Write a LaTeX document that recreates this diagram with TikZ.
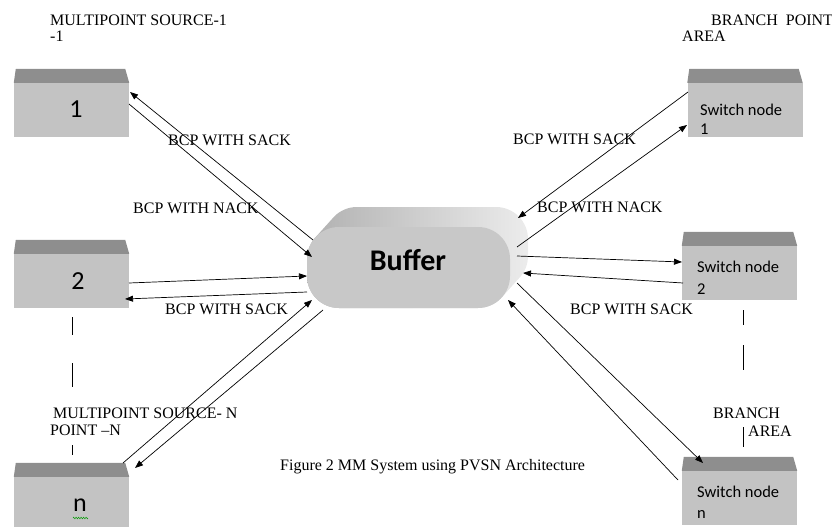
\documentclass[tikz,border=0pt]{standalone}
\usepackage{fontspec}
\setmainfont{Liberation Serif}
\newfontfamily\calfont{Carlito}
\usetikzlibrary{arrows.meta,decorations.pathmorphing}
\definecolor{boxfront}{HTML}{C3C3C3}
\definecolor{boxtop}{HTML}{8E8E8E}
\definecolor{buffront}{HTML}{C8C8C8}
\begin{document}
\begin{tikzpicture}[x=1pt,y=-1pt,
  lbl/.style={font=\fontsize{16}{17}\selectfont, inner sep=0pt, anchor=base west},
  box/.style={fill=boxfront, minimum width=115pt, minimum height=54pt, inner sep=0pt},
  digit/.style={font=\calfont\fontsize{26}{28}\selectfont, inner sep=0pt, anchor=base},
  swtext/.style={font=\calfont\fontsize{16.5}{18}\selectfont, inner sep=0pt, anchor=base west},
  arr/.style={-{Triangle[length=8pt,width=6pt]}, line width=0.7pt},
  vbar/.style={line width=0.8pt}]
\useasboundingbox (0,0) rectangle (832,527);
\clip (0,0) rectangle (832,527);

% buffer (3D rounded block)
\shade[left color=gray!62, middle color=gray!55, right color=gray!15]
  \foreach \k in {0,...,20} { [rounded corners=32pt] (307+0.9*\k, 227-\k) rectangle ++(203,81) };
\node[fill=buffront, rounded corners=32pt, minimum width=203pt, minimum height=81pt, inner sep=0pt] (buf) at (408.5,267.5) {};
\node[font=\calfont\bfseries\fontsize{30}{32}\selectfont, inner sep=0pt, anchor=base] (buft) at (408,270) {Buffer};

% boxes
\node[box] (b1) at (71.5,110) {};
\node[box] (b2) at (71.5,281) {};
\node[box] (bn) at (71.5,504) {};
\node[box] (s1) at (745,110) {};
\node[box] (s2) at (739.5,273) {};
\node[box] (sn) at (739.5,498) {};
\foreach \n in {b1,b2,bn,s1,s2,sn}
  \fill[boxtop] (\n.north west) -- ([shift={(2,-14)}]\n.north west) -- ([shift={(-4,-14)}]\n.north east) -- (\n.north east) -- cycle;

% box texts
\node[digit] (t1) at (76,117) {1};
\node[digit] (t2) at (78,289) {2};
\node[digit] (tn) at (80,511) {n};
\draw[green!60!black, line width=0.5pt, decorate, decoration={zigzag, amplitude=0.8pt, segment length=2.5pt}] (73,518) -- (88,518);
\node[swtext] (s1a) at (700,115) {Switch node};
\node[swtext] (s1b) at (700,134) {1};
\node[swtext] (s2a) at (697,272) {Switch node};
\node[swtext] (s2b) at (697,294) {2};
\node[swtext] (sna) at (697,497) {Switch node};
\node[swtext] (snb) at (697,518) {n};

% labels
\node[lbl] (l1) at (50,25.5) {MULTIPOINT SOURCE-1};
\node[lbl] (l2) at (50,42) {-1};
\node[lbl] (l3) at (711,26) {BRANCH\ \ POINT};
\node[lbl] (l4) at (682,42) {AREA};
\node[lbl] (l5) at (168,145) {BCP WITH SACK};
\node[lbl] (l6) at (133,213) {BCP WITH NACK};
\node[lbl] (l7) at (165,314) {BCP WITH SACK};
\node[lbl] (l8) at (513,144) {BCP WITH SACK};
\node[lbl] (l9) at (537,212) {BCP WITH NACK};
\node[lbl] (l10) at (570,314) {BCP WITH SACK};
\node[lbl] (l11) at (53,418) {MULTIPOINT SOURCE- N};
\node[lbl] (l12) at (50,435) {POINT --N};
\node[lbl] (l13) at (713,418) {BRANCH};
\node[lbl] (l14) at (748,436) {AREA};
\node[lbl] (cap) at (280,470) {Figure 2 MM System using PVSN Architecture};

% vertical bars
\draw[vbar] (72,317) -- (72,335);
\draw[vbar] (72,363) -- (72,387);
\draw[vbar] (72,445) -- (72,455);
\draw[vbar] (743,310) -- (743,325);
\draw[vbar] (743,345) -- (743,370);
\draw[vbar] (743,427) -- (743,447);

% connectors
\draw[arr] ([shift={(-95.5,-27.5)}]buf.center) -- ([shift={(58.5,-18)}]b1.center);
\draw[arr] ([shift={(57.5,-6)}]b1.center) -- ([shift={(-96.5,-10.5)}]buf.center);
\draw[arr] ([shift={(-57,-18)}]s1.center) -- ([shift={(109.5,-49.5)}]buf.center);
\draw[arr] ([shift={(108.5,-20.5)}]buf.center) -- ([shift={(-58,15)}]s1.center);
\draw[arr] ([shift={(108.5,-11.5)}]buf.center) -- ([shift={(-57.5,-11)}]s2.center);
\draw[arr] ([shift={(-56.5,10)}]s2.center) -- ([shift={(114.5,5.5)}]buf.center);
\draw[arr] ([shift={(108.5,15.5)}]buf.center) -- ([shift={(-36.5,-35)}]sn.center);
\draw[arr] ([shift={(-61.5,-18)}]sn.center) -- ([shift={(99.5,32.5)}]buf.center);
\draw[arr] ([shift={(57.5,2)}]b2.center) -- ([shift={(-101.5,8.5)}]buf.center);
\draw[arr] ([shift={(-101.5,24.5)}]buf.center) -- ([shift={(53.5,18)}]b2.center);
\draw[arr] ([shift={(51.5,-41)}]bn.center) -- ([shift={(-96.5,32.5)}]buf.center);
\draw[arr] ([shift={(-85.5,42.5)}]buf.center) -- ([shift={(63.5,-36)}]bn.center);
\end{tikzpicture}
\end{document}
